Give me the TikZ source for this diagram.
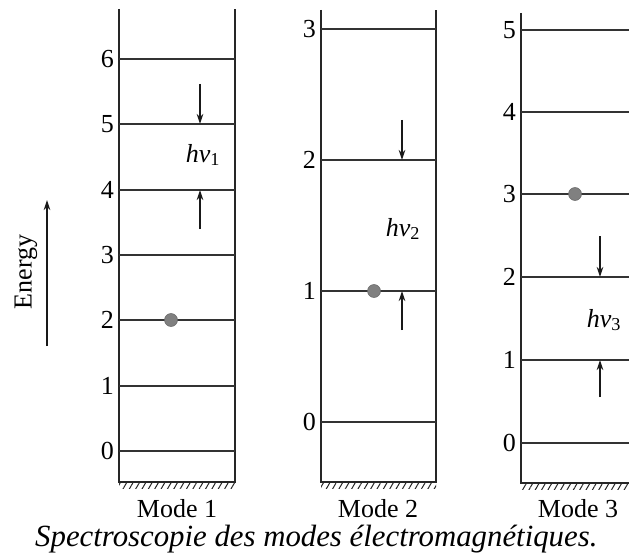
\documentclass[tikz,border=0pt]{standalone}
\usepackage{fontspec}
\setmainfont{Liberation Serif}
\usetikzlibrary{arrows.meta,patterns.meta}

\begin{document}
\begin{tikzpicture}[x=1pt,y=1pt]
\tikzstyle{every node}+=[inner sep=0pt]
\tikzstyle{wall}=[black!85,line width=1.6pt]
\tikzstyle{level}=[black!80,line width=1.6pt]
\tikzstyle{photon}=[black!90,line width=1.2pt,-{Stealth[length=10pt,width=6.5pt]}]
\tikzstyle{quantum}=[fill=black!50,draw=black!60,line width=0.5pt]
\tikzstyle{num}=[font=\fontsize{26}{30}\selectfont,left]
\tikzstyle{label}=[font=\fontsize{26}{30}\selectfont]
\tikzstyle{hatch}=[pattern={Lines[angle=60,distance=5.5pt,line width=1pt]},pattern color=black!85]
\useasboundingbox (0,0) rectangle (629,-559);
\clip (0,0) rectangle (629,-559);
% mode 1
\draw [wall] (119,-9) -- (119,-482) -- (235,-482) -- (235,-9);
\fill [hatch] (119,-482) rectangle (235,-488);
\draw [level] (119,-451) -- (235,-451);
\draw (114,-451) node [num] (m1l0) {0};
\draw [level] (119,-386) -- (235,-386);
\draw (114,-386) node [num] (m1l1) {1};
\draw [level] (119,-320) -- (235,-320);
\draw (114,-320) node [num] (m1l2) {2};
\draw [level] (119,-255) -- (235,-255);
\draw (114,-255) node [num] (m1l3) {3};
\draw [level] (119,-190) -- (235,-190);
\draw (114,-190) node [num] (m1l4) {4};
\draw [level] (119,-124) -- (235,-124);
\draw (114,-124) node [num] (m1l5) {5};
\draw [level] (119,-59) -- (235,-59);
\draw (114,-59) node [num] (m1l6) {6};
\draw [quantum] (171,-320) circle (6.5);
\coordinate (m1top) at (200,-84);
\coordinate (m1hi) at (200,-124);
\coordinate (m1bot) at (200,-229);
\coordinate (m1lo) at (200,-190);
\draw [photon] (m1top) -- (m1hi);
\draw [photon] (m1bot) -- (m1lo);
\draw (203,-155) node [label] (m1hv) {{\itshape hν}\textsubscript{1}};
\draw (177,-517) node [label,anchor=base] (m1name) {Mode 1};
% mode 2
\draw [wall] (321,-10) -- (321,-482) -- (436,-482) -- (436,-10);
\fill [hatch] (321,-482) rectangle (436,-488);
\draw [level] (321,-422) -- (436,-422);
\draw (316,-422) node [num] (m2l0) {0};
\draw [level] (321,-291) -- (436,-291);
\draw (316,-291) node [num] (m2l1) {1};
\draw [level] (321,-160) -- (436,-160);
\draw (316,-160) node [num] (m2l2) {2};
\draw [level] (321,-29) -- (436,-29);
\draw (316,-29) node [num] (m2l3) {3};
\draw [quantum] (374,-291) circle (6.5);
\coordinate (m2top) at (402,-120);
\coordinate (m2hi) at (402,-160);
\coordinate (m2bot) at (402,-330);
\coordinate (m2lo) at (402,-291);
\draw [photon] (m2top) -- (m2hi);
\draw [photon] (m2bot) -- (m2lo);
\draw (403,-229) node [label] (m2hv) {{\itshape hν}\textsubscript{2}};
\draw (378,-517) node [label,anchor=base] (m2name) {Mode 2};
% mode 3
\draw [wall] (521,-13) -- (521,-483) -- (636,-483) -- (636,-13);
\fill [hatch] (521,-483) rectangle (636,-489);
\draw [level] (521,-443) -- (636,-443);
\draw (516,-443) node [num] (m3l0) {0};
\draw [level] (521,-360) -- (636,-360);
\draw (516,-360) node [num] (m3l1) {1};
\draw [level] (521,-277) -- (636,-277);
\draw (516,-277) node [num] (m3l2) {2};
\draw [level] (521,-194) -- (636,-194);
\draw (516,-194) node [num] (m3l3) {3};
\draw [level] (521,-112) -- (636,-112);
\draw (516,-112) node [num] (m3l4) {4};
\draw [level] (521,-30) -- (636,-30);
\draw (516,-30) node [num] (m3l5) {5};
\draw [quantum] (575,-194) circle (6.5);
\coordinate (m3top) at (600,-236);
\coordinate (m3hi) at (600,-277);
\coordinate (m3bot) at (600,-397);
\coordinate (m3lo) at (600,-360);
\draw [photon] (m3top) -- (m3hi);
\draw [photon] (m3bot) -- (m3lo);
\draw (604,-320) node [label] (m3hv) {{\itshape hν}\textsubscript{3}};
\draw (578,-517) node [label,anchor=base] (m3name) {Mode 3};
% energy axis
\coordinate (e0) at (47,-346);
\coordinate (e1) at (47,-200);
\draw [photon] (e0) -- (e1);
\draw (26,-272) node [label,rotate=90] (energy) {Energy};
% caption
\draw (35,-546) node [anchor=base west,font=\fontsize{30.8}{34}\selectfont\itshape] (caption) {Spectroscopie des modes électromagnétiques.};
\end{tikzpicture}
\end{document}
